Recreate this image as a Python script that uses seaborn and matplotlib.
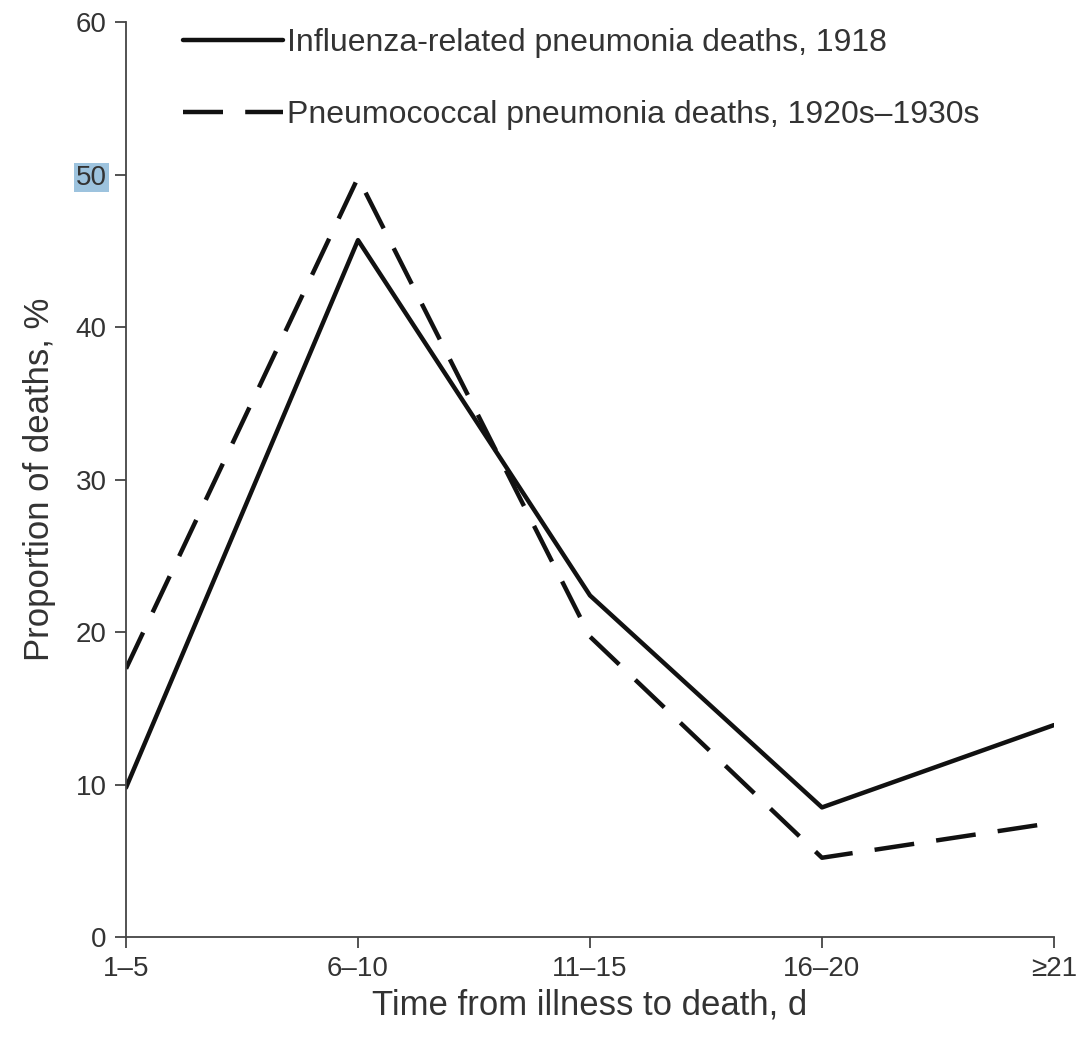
import matplotlib
matplotlib.use("Agg")
import matplotlib.pyplot as plt
import seaborn as sns
import pandas as pd

categories = ["1–5", "6–10", "11–15", "16–20", "≥21"]
influenza_1918 = [9.8, 45.7, 22.4, 8.5, 13.9]
pneumococcal_1920s = [17.6, 49.8, 19.7, 5.2, 7.5]
series_names = ["Influenza-related pneumonia deaths, 1918",
                "Pneumococcal pneumonia deaths, 1920s–1930s"]
y_ticks = [0, 10, 20, 30, 40, 50, 60]

df = pd.DataFrame({
    "period": categories * 2,
    "value": influenza_1918 + pneumococcal_1920s,
    "series": [series_names[0]] * len(categories) + [series_names[1]] * len(categories),
})

sns.set_style("white")
plt.rcParams['font.family'] = ['Liberation Sans', 'DejaVu Sans']
txt = "#333333"

fig = plt.figure(figsize=(10.78, 10.45), dpi=100)
ax = fig.add_axes([0.1169, 0.1033, 0.8608, 0.8756])

sns.lineplot(data=df, x="period", y="value", style="series",
             dashes={series_names[0]: "", series_names[1]: (9, 5)},
             color="#111111", linewidth=3.2, legend=False, ax=ax, sort=False)

ax.set_xlim(0, len(categories) - 1)
ax.set_ylim(0, 60)
ax.set_yticks(y_ticks)
ax.set_xticks(range(len(categories)))
ax.set_xticklabels(categories)

for s in ["top", "right"]:
    ax.spines[s].set_visible(False)
for s in ["left", "bottom"]:
    ax.spines[s].set_color("#444444")
    ax.spines[s].set_linewidth(1.3)

ax.tick_params(axis="both", direction="out", length=8, width=1.3, color="#444444",
               labelsize=20, labelcolor=txt, pad=6, left=True, bottom=True)

for lab in ax.get_yticklabels():
    if lab.get_text() == "50":
        lab.set_bbox(dict(facecolor="#9DC3DE", edgecolor="none", pad=1.5))

ax.set_xlabel("Time from illness to death, d", fontsize=25, color=txt, labelpad=4)
ax.set_ylabel("Proportion of deaths, %", fontsize=25, color=txt, labelpad=14)

lines = ax.get_lines()
leg = ax.legend(lines[:2], series_names, loc="upper left", bbox_to_anchor=(0.0618, 0.993),
                frameon=False, fontsize=23, handlelength=3.13, handletextpad=0.12,
                labelspacing=1.3, labelcolor=txt, borderaxespad=0, borderpad=0)

fig.savefig("out.png", dpi=100, facecolor="white")
